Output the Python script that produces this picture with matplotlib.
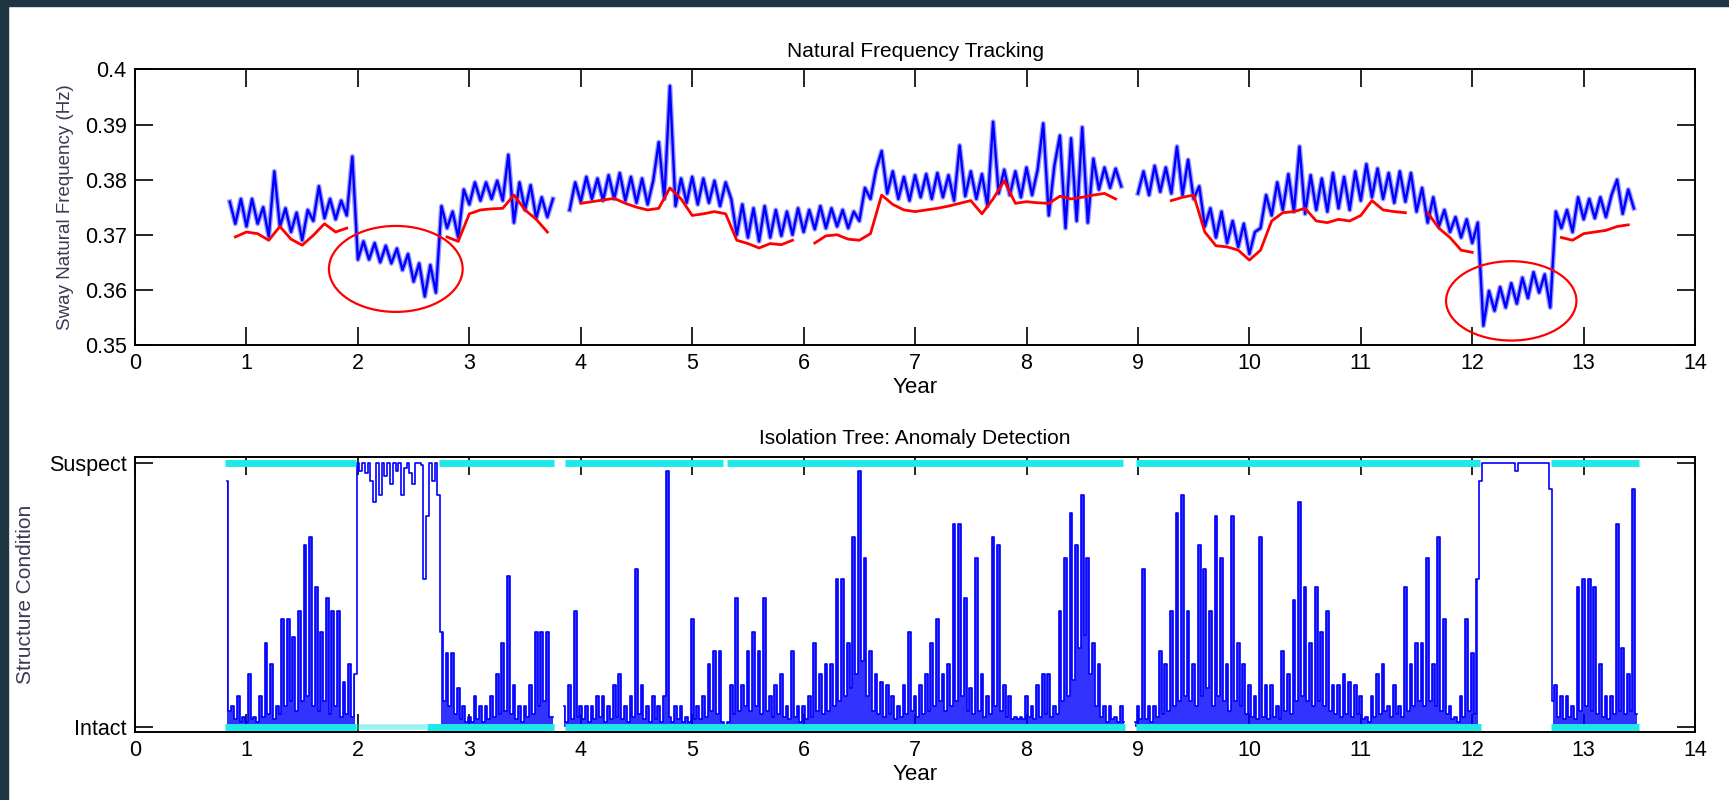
import numpy as np
import matplotlib.pyplot as plt
from matplotlib.patches import Ellipse, Rectangle

nan = float('nan')

# ---- top panel: sway natural frequency (Hz), blue = tracked, red = baseline
blue_starts = [0.85, 3.90, 9.00]     # year of first sample of each record
blue_step = 0.05
blue_a = [0.376, 0.372, 0.3765, 0.3715, 0.3765, 0.372, 0.375, 0.3697, 0.3815, 0.3715,
          0.3748, 0.3705, 0.374, 0.369, 0.3745, 0.3725, 0.3788, 0.373, 0.3765, 0.3728,
          0.3762, 0.3735, 0.3842, 0.3655, 0.3688, 0.3655, 0.3685, 0.365, 0.368, 0.3648,
          0.3675, 0.3636, 0.3665, 0.3615, 0.3648, 0.3588, 0.3645, 0.3595, 0.3752, 0.3712,
          0.3742, 0.3695, 0.3782, 0.3755, 0.3795, 0.3762, 0.3795, 0.3765, 0.3798, 0.3762,
          0.3845, 0.3722, 0.3795, 0.3745, 0.379, 0.373, 0.3768, 0.3732, 0.3765]
blue_b = [0.3745, 0.3795, 0.376, 0.3805, 0.3765, 0.3802, 0.3762, 0.3808, 0.3765, 0.3812,
          0.3762, 0.3805, 0.3758, 0.3802, 0.3755, 0.3798, 0.3868, 0.3765, 0.397, 0.3752,
          0.3802, 0.3758, 0.3805, 0.3755, 0.3802, 0.3758, 0.3798, 0.3752, 0.3795, 0.3765,
          0.370, 0.3755, 0.3695, 0.3748, 0.3688, 0.3752, 0.3695, 0.3745, 0.3698, 0.3742,
          0.370, 0.3748, 0.3705, 0.3745, 0.371, 0.3752, 0.3712, 0.3748, 0.3715, 0.3745,
          0.3712, 0.3742, 0.3725, 0.3785, 0.3765, 0.3818, 0.3852, 0.3775, 0.3815, 0.3765,
          0.3805, 0.3762, 0.3808, 0.3768, 0.381, 0.3765, 0.3812, 0.3768, 0.3808, 0.3762,
          0.3862, 0.377, 0.3815, 0.3765, 0.381, 0.3752, 0.3905, 0.3775, 0.3818, 0.3772,
          0.3815, 0.3768, 0.3822, 0.3772, 0.3818, 0.3902, 0.3735, 0.3825, 0.388, 0.3712,
          0.3875, 0.3725, 0.3895, 0.3722, 0.3838, 0.3782, 0.3822, 0.3785, 0.382, 0.3788]
blue_c = [0.3775, 0.3815, 0.3772, 0.3825, 0.3778, 0.3822, 0.3775, 0.386, 0.3772, 0.3836,
          0.3765, 0.3788, 0.3715, 0.3748, 0.3695, 0.3742, 0.3685, 0.3725, 0.3678, 0.372,
          0.3665, 0.3705, 0.3712, 0.3772, 0.3735, 0.3795, 0.3745, 0.381, 0.3742, 0.386,
          0.3738, 0.3808, 0.3745, 0.3802, 0.3742, 0.3812, 0.3748, 0.3805, 0.3745, 0.3815,
          0.3762, 0.3828, 0.3768, 0.382, 0.3765, 0.3812, 0.3758, 0.3815, 0.376, 0.3812,
          0.3742, 0.3785, 0.3722, 0.3768, 0.3715, 0.3745, 0.3705, 0.3732, 0.3695, 0.3728,
          0.3685, 0.3722, 0.3535, 0.3598, 0.3562, 0.3605, 0.3568, 0.3612, 0.3575, 0.3622,
          0.3585, 0.3632, 0.3595, 0.3628, 0.3568, 0.3742, 0.3712, 0.3745, 0.3705, 0.3768,
          0.3728, 0.3765, 0.373, 0.3768, 0.3732, 0.3772, 0.380, 0.3738, 0.3782, 0.3748]

red_start = 0.9
red_step = 0.1
red = [0.3696, 0.3705, 0.3702, 0.369, 0.3715, 0.3692, 0.3681, 0.3699, 0.372, 0.3705,
       0.3712, nan, nan, nan, nan, nan, nan, nan, nan, 0.3696,
       0.3688, 0.3738, 0.3745, 0.3747, 0.3748, 0.3772, 0.3745, 0.3728, 0.3705, nan,
       nan, 0.3757, 0.376, 0.3763, 0.3766, 0.3757, 0.375, 0.3745, 0.3748, 0.3785,
       0.3765, 0.3735, 0.3738, 0.3742, 0.3738, 0.369, 0.3684, 0.3676, 0.3684, 0.3682,
       0.369, nan, 0.3685, 0.3698, 0.370, 0.3692, 0.369, 0.3702, 0.3772, 0.3755,
       0.3745, 0.3742, 0.3745, 0.3748, 0.3752, 0.3757, 0.3762, 0.3738, 0.3765, 0.3798,
       0.3757, 0.376, 0.3758, 0.3757, 0.377, 0.3765, 0.3768, 0.3772, 0.3775, 0.3765,
       nan, nan, 0.3751, nan, 0.3762, 0.3768, 0.3772, 0.3705, 0.368, 0.3678,
       0.3672, 0.3654, 0.3672, 0.3725, 0.374, 0.3742, 0.3748, 0.3725, 0.3722, 0.3728,
       0.3725, 0.3735, 0.3762, 0.3745, 0.3742, 0.374, nan, 0.374, 0.3712, 0.3695,
       0.3672, 0.3668, nan, nan, nan, nan, nan, nan, nan, 0.3695,
       0.369, 0.3702, 0.3705, 0.3708, 0.3715, 0.3718]

# circled low-frequency periods: (centre year, centre Hz, width yr, height Hz)
circles = [(2.34, 0.3638, 1.20, 0.0156), (12.35, 0.3580, 1.17, 0.0144)]

# ---- bottom panel: isolation tree anomaly score (0 = intact, 1 = suspect)
score_starts = [0.825, 3.85, 8.975]
score_step = 0.025
score_a = [0.93, 0.06, 0.08, 0.03, 0.12, 0.02, 0.04, 0.02, 0.2, 0.03,
           0.04, 0.02, 0.12, 0.04, 0.32, 0.05, 0.24, 0.03, 0.08, 0.05,
           0.41, 0.08, 0.41, 0.1, 0.34, 0.06, 0.44, 0.1, 0.69, 0.12,
           0.72, 0.08, 0.53, 0.06, 0.36, 0.1, 0.49, 0.05, 0.44, 0.08,
           0.44, 0.04, 0.17, 0.05, 0.24, 0.04, 0.2, 1.0, 0.97, 1.0,
           0.96, 1.0, 0.93, 0.85, 1.0, 0.88, 1.0, 0.95, 1.0, 0.92,
           1.0, 0.97, 1.0, 0.88, 0.98, 1.0, 0.96, 0.92, 1.0, 1.0,
           0.99, 0.56, 0.8, 1.0, 0.93, 1.0, 0.88, 0.36, 0.1, 0.28,
           0.08, 0.28, 0.05, 0.15, 0.03, 0.08, 0.02, 0.04, 0.02, 0.12,
           0.03, 0.08, 0.02, 0.08, 0.03, 0.12, 0.04, 0.2, 0.05, 0.32,
           0.06, 0.57, 0.05, 0.16, 0.03, 0.08, 0.02, 0.08, 0.04, 0.16,
           0.05, 0.36, 0.08, 0.36, 0.1, 0.36, 0.04, 0.04]
score_b = [0.08, 0.02, 0.16, 0.03, 0.44, 0.04, 0.08, 0.03, 0.08, 0.02,
           0.08, 0.03, 0.12, 0.04, 0.12, 0.02, 0.08, 0.03, 0.16, 0.04,
           0.2, 0.03, 0.08, 0.02, 0.12, 0.04, 0.6, 0.05, 0.16, 0.03,
           0.08, 0.02, 0.12, 0.03, 0.08, 0.02, 0.12, 0.97, 0.04, 0.02,
           0.08, 0.03, 0.08, 0.02, 0.04, 0.02, 0.41, 0.03, 0.08, 0.03,
           0.12, 0.04, 0.24, 0.06, 0.29, 0.05, 0.29, 0.02, 0.01, 0.02,
           0.16, 0.05, 0.49, 0.06, 0.16, 0.08, 0.29, 0.06, 0.36, 0.08,
           0.29, 0.05, 0.49, 0.06, 0.12, 0.04, 0.16, 0.05, 0.2, 0.04,
           0.08, 0.03, 0.29, 0.04, 0.08, 0.02, 0.08, 0.03, 0.12, 0.04,
           0.32, 0.06, 0.2, 0.05, 0.24, 0.06, 0.24, 0.08, 0.56, 0.1,
           0.56, 0.12, 0.32, 0.15, 0.72, 0.2, 0.97, 0.25, 0.64, 0.12,
           0.29, 0.06, 0.2, 0.05, 0.17, 0.04, 0.16, 0.05, 0.12, 0.03,
           0.08, 0.04, 0.16, 0.05, 0.36, 0.06, 0.12, 0.04, 0.16, 0.05,
           0.2, 0.06, 0.32, 0.08, 0.41, 0.1, 0.2, 0.06, 0.24, 0.08,
           0.77, 0.1, 0.77, 0.12, 0.49, 0.06, 0.15, 0.05, 0.64, 0.06,
           0.2, 0.04, 0.12, 0.05, 0.72, 0.08, 0.69, 0.06, 0.16, 0.04,
           0.12, 0.03, 0.04, 0.03, 0.04, 0.03, 0.12, 0.04, 0.08, 0.03,
           0.16, 0.04, 0.2, 0.05, 0.2, 0.04, 0.08, 0.05, 0.44, 0.1,
           0.64, 0.12, 0.81, 0.18, 0.69, 0.3, 0.88, 0.35, 0.64, 0.2,
           0.32, 0.08, 0.24, 0.04, 0.08, 0.02, 0.08, 0.03, 0.04, 0.02,
           0.08, 0.02]
score_c = [0.02, 0.08, 0.03, 0.6, 0.03, 0.08, 0.02, 0.08, 0.04, 0.29,
           0.05, 0.24, 0.06, 0.44, 0.08, 0.81, 0.1, 0.88, 0.12, 0.44,
           0.1, 0.24, 0.08, 0.69, 0.12, 0.6, 0.15, 0.44, 0.08, 0.8,
           0.12, 0.64, 0.1, 0.24, 0.06, 0.8, 0.1, 0.32, 0.08, 0.24,
           0.05, 0.16, 0.04, 0.12, 0.03, 0.72, 0.04, 0.16, 0.03, 0.16,
           0.04, 0.08, 0.03, 0.29, 0.06, 0.2, 0.05, 0.48, 0.1, 0.85,
           0.12, 0.53, 0.1, 0.32, 0.08, 0.53, 0.1, 0.36, 0.08, 0.44,
           0.06, 0.16, 0.05, 0.16, 0.04, 0.2, 0.05, 0.17, 0.04, 0.16,
           0.05, 0.12, 0.03, 0.04, 0.02, 0.12, 0.04, 0.2, 0.05, 0.24,
           0.06, 0.08, 0.04, 0.16, 0.05, 0.08, 0.04, 0.53, 0.06, 0.24,
           0.08, 0.32, 0.1, 0.32, 0.08, 0.64, 0.1, 0.24, 0.08, 0.72,
           0.06, 0.41, 0.05, 0.08, 0.03, 0.04, 0.02, 0.12, 0.04, 0.41,
           0.06, 0.28, 0.05, 0.56, 0.93, 1.0, 1.0, 1.0, 1.0, 1.0,
           1.0, 1.0, 1.0, 1.0, 1.0, 1.0, 1.0, 0.97, 1.0, 1.0,
           1.0, 1.0, 1.0, 1.0, 1.0, 1.0, 1.0, 1.0, 1.0, 0.9,
           0.1, 0.16, 0.04, 0.12, 0.03, 0.12, 0.04, 0.08, 0.03, 0.53,
           0.06, 0.56, 0.08, 0.56, 0.06, 0.53, 0.05, 0.24, 0.04, 0.12,
           0.03, 0.12, 0.05, 0.77, 0.06, 0.3, 0.05, 0.2, 0.06, 0.9,
           0.05]

# periods flagged as suspect (score pinned near 1)
alarm_spans = [(1.99, 2.74), (12.07, 12.71)]

# labelled samples (year spans) shown as cyan rows
suspect_spans = [(0.81, 1.98), (2.73, 3.76), (3.86, 5.28), (5.31, 8.87), (8.98, 12.07), (12.71, 13.5)]
intact_spans = [(0.81, 1.98), (2.62, 3.76), (3.86, 8.88), (8.98, 12.08), (12.71, 13.5)]
intact_faint = [(1.98, 2.62)]

plt.rcParams['font.family'] = ['Liberation Sans', 'DejaVu Sans']

fig = plt.figure(figsize=(17.29, 8), dpi=100)
fig.add_artist(Rectangle((0, 0), 8 / 1729, 1, transform=fig.transFigure, color='#1f3442', zorder=0))
fig.add_artist(Rectangle((0, 1 - 6 / 800), 1, 6 / 800, transform=fig.transFigure, color='#1f3442', zorder=0))

ax1 = fig.add_axes([0.0781, 0.5688, 0.9023, 0.3444])
ax2 = fig.add_axes([0.0781, 0.0850, 0.9023, 0.3438])

for st, vals in zip(blue_starts, [blue_a, blue_b, blue_c]):
    x = st + blue_step * np.arange(len(vals))
    ax1.plot(x, vals, color='#9a9aff', lw=3.6, zorder=2)
    ax1.plot(x, vals, color='blue', lw=1.7, zorder=2)
xr = red_start + red_step * np.arange(len(red))
ax1.plot(xr, red, color='red', lw=2.0, zorder=3)
for cx, cy, w, h in circles:
    ax1.add_patch(Ellipse((cx, cy), w, h, fill=False, edgecolor='red', lw=1.6, zorder=4))

ax1.set_xlim(0, 14)
ax1.set_ylim(0.35, 0.4)
ax1.set_xticks(range(0, 15))
ax1.set_yticks([0.35, 0.36, 0.37, 0.38, 0.39, 0.4])
ax1.set_yticklabels(['0.35', '0.36', '0.37', '0.38', '0.39', '0.4'])
ax1.set_title('Natural Frequency Tracking', fontsize=15, pad=9)
ax1.set_xlabel('Year', fontsize=16, labelpad=2)
ax1.set_ylabel('Sway Natural Frequency (Hz)', fontsize=13.5, color='#3a3a55', labelpad=8)

for st, vals in zip(score_starts, [score_a, score_b, score_c]):
    x = st + score_step * np.arange(len(vals))
    normal = np.ones(len(x), dtype=bool)
    for a, b in alarm_spans:
        normal &= ~((x > a) & (x < b))
    ax2.fill_between(x, 0, vals, where=normal, step='mid', color='blue', alpha=0.8, lw=0, zorder=2)
    ax2.plot(x, vals, color='blue', lw=1.2, drawstyle='steps-mid', zorder=2)
for a, b in suspect_spans:
    ax2.hlines(1, a, b, color='#1fe8e8', lw=5, zorder=3)
for a, b in intact_spans:
    ax2.hlines(0, a, b, color='#1fe8e8', lw=5, zorder=3)
for a, b in intact_faint:
    ax2.hlines(0, a, b, color='#1fe8e8', lw=4, alpha=0.45, zorder=3)

ax2.set_xlim(0, 14)
ax2.set_ylim(-0.018, 1.022)
ax2.set_xticks(range(0, 15))
ax2.set_yticks([0, 1])
ax2.set_yticklabels(['Intact', 'Suspect'])
ax2.set_title('Isolation Tree: Anomaly Detection', fontsize=15, pad=9)
ax2.set_xlabel('Year', fontsize=16, labelpad=2)
ax2.set_ylabel('Structure Condition', fontsize=15, color='#3a3a55', labelpad=10)

for ax in (ax1, ax2):
    ax.tick_params(direction='in', top=True, right=True, length=13, width=1.2,
                   labelsize=15.5, pad=6, colors='black')
    for s in ax.spines.values():
        s.set_linewidth(1.4)

fig.savefig('out.png', dpi=100)
